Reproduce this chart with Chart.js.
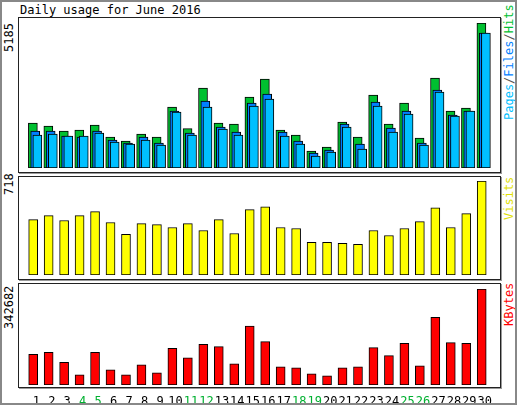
<!DOCTYPE html>
<html><head><meta charset="utf-8">
<script src="https://cdn.jsdelivr.net/npm/chart.js@4"></script>
<style>
body{margin:0;background:#fff;}
#wrap{position:relative;width:517px;height:405px;box-sizing:border-box;border:2px solid #888;font-family:"DejaVu Sans Mono",monospace;font-size:12px;overflow:hidden;}
.frame{position:absolute;border:1px solid #222;box-shadow:1px 1px 0 #999;}
canvas{position:absolute;}
.rot{position:absolute;transform-origin:0 0;transform:rotate(-90deg);white-space:nowrap;font-size:12px;}
</style></head><body>
<div id="wrap">
<div style="position:absolute;left:18px;top:1px;">Daily usage for June 2016</div>
<div class="frame" style="left:16px;top:15px;width:481px;height:154px;"></div>
<div class="frame" style="left:16px;top:174px;width:481px;height:102px;"></div>
<div class="frame" style="left:16px;top:281px;width:481px;height:103px;"></div>
<div class="rot" style="left:0px;top:50px;">5185</div>
<div class="rot" style="left:0px;top:193px;">718</div>
<div class="rot" style="left:0px;top:327px;">342682</div>
<div class="rot" style="left:500px;top:118px;"><span style="color:#00c0ff">Pages</span><span style="color:#555">/</span><span style="color:#0080ff">Files</span><span style="color:#555">/</span><span style="color:#00c030">Hits</span></div>
<div class="rot" style="left:500px;top:218px;color:#e0e000">Visits</div>
<div class="rot" style="left:500px;top:324px;color:#ff0000">KBytes</div>
<canvas id="c1" style="left:17px;top:16px;width:480px;height:153px;"></canvas>
<canvas id="c2" style="left:17px;top:175px;width:480px;height:101px;"></canvas>
<canvas id="c3" style="left:17px;top:282px;width:480px;height:119px;"></canvas>
</div>
<script>
const days = Array.from({length:30},(_,i)=>String(i+1));
const weekendDays = [4,5,11,12,18,19,25,26];
const hits = [1609,1502,1323,1359,1538,1108,965,1216,1108,2181,1406,2861,1609,1573,2539,3182,1359,1180,608,751,1645,1108,2610,1573,2324,1073,3218,2038,2146,5185];
const files = [1323,1323,1144,1108,1323,1001,894,1108,894,2038,1252,2396,1466,1287,2324,2646,1287,965,536,644,1573,858,2360,1430,2038,894,2789,1895,2038,4828];
const pages = [1180,1216,1144,1144,1252,930,858,1001,822,2003,1180,2181,1395,1180,2217,2467,1144,858,429,572,1466,679,2217,1287,1931,822,2718,1860,2038,4828];
const visits = [423,453,416,453,484,401,310,393,385,363,393,340,423,317,499,521,363,355,249,249,242,234,340,302,355,408,514,363,469,718];
const kbytes = [109418,116633,80561,36072,116633,54108,36072,72144,43286,131062,97394,145490,137074,75751,210420,155110,64930,61322,39679,32465,61322,64930,133466,104609,149098,68537,241682,151502,149098,342682];

const pts=(arr,off)=>arr.map((v,i)=>({x:i+1+off,y:v}));
const ds=(arr,off,color)=>({data:pts(arr,off),backgroundColor:color,borderColor:'#000',borderWidth:1,borderSkipped:false,barThickness:9,grouped:false});
function opts(max,pad,showX){
  return {responsive:false,animation:false,devicePixelRatio:1,
    layout:{padding:pad},
    plugins:{legend:{display:false},tooltip:{enabled:false}},
    scales:{
      x:{type:'linear',min:0.5,max:30.5,display:showX,grid:{display:false},border:{display:false},
         afterBuildTicks:s=>{s.ticks=days.map((d,i)=>({value:i+1.1}));},
         afterFit:s=>{if(showX)s.height=18;},
         ticks:{autoSkip:false,maxRotation:0,padding:2,
           callback:(v)=>days[Math.round(v)-1],
           color:(c)=>weekendDays.includes(Math.round(c.tick.value))?'#00b030':'#000',
           font:{family:'DejaVu Sans Mono',size:12}}},
      y:{display:false,min:0,max:max}
    }};
}
function mk(id,w,h,data,o){const c=document.getElementById(id);c.width=w;c.height=h;new Chart(c,{type:'bar',data:{datasets:data},options:o});}
mk('c1',480,153,[ds(pages,0.17,'#00c0ff'),ds(files,0.03,'#0080ff'),ds(hits,-0.12,'#00c030')],opts(5185,{top:5,bottom:3,left:0,right:0},false));
mk('c2',480,101,[ds(visits,-0.1,'#ffff00')],opts(718,{top:4,bottom:3,left:0,right:0},false));
mk('c3',480,119,[ds(kbytes,-0.1,'#ff0000')],opts(342682,{top:5,bottom:0,left:0,right:0},true));
</script>
</body></html>
